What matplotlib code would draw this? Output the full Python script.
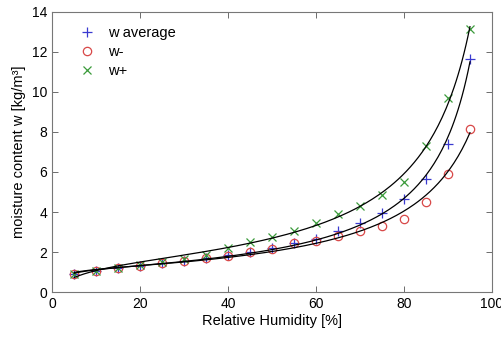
import numpy as np
import matplotlib
matplotlib.use("Agg")
import matplotlib.pyplot as plt

plt.rcParams["font.family"] = ["Liberation Sans", "DejaVu Sans"]

# relative humidity [%]
rh = [5, 10, 15, 20, 25, 30, 35, 40, 45, 50, 55, 60, 65, 70, 75, 80, 85, 90, 95]

# moisture content [kg/m3]
w_avg = [0.9, 1.05, 1.2, 1.3, 1.45, 1.55, 1.7, 1.85, 2.0, 2.2, 2.45, 2.65, 3.05,
         3.45, 3.95, 4.65, 5.65, 7.4, 11.65]
w_minus = [0.9, 1.05, 1.2, 1.3, 1.45, 1.55, 1.7, 1.8, 2.0, 2.15, 2.45, 2.55, 2.8,
           3.05, 3.3, 3.65, 4.5, 5.9, 8.15]
w_plus = [0.9, 1.05, 1.2, 1.35, 1.5, 1.65, 1.85, 2.2, 2.5, 2.75, 3.05, 3.45, 3.9,
          4.3, 4.85, 5.5, 7.3, 9.7, 13.15]


def gab_fit(x, w):
    # GAB isotherm in linear form: a/w = p2*a^2 + p1*a + p0
    # weighted so the residuals are roughly in terms of w
    a = np.asarray(x) / 100.0
    w = np.asarray(w)
    p = np.polyfit(a, a / w, 2, w=w**2 / a)
    aa = np.linspace(a[0], a[-1], 200)
    return aa * 100, aa / np.polyval(p, aa)


fig = plt.figure(figsize=(5.02, 3.40), dpi=100)
ax = fig.add_axes([0.104, 0.141, 0.876, 0.824])

for w in (w_avg, w_minus, w_plus):
    xf, yf = gab_fit(rh, w)
    ax.plot(xf, yf, color="black", lw=0.9, zorder=3)

ax.plot(rh, w_avg, "+", color="#3a3ad0", ms=6.5, mew=0.9, label="w average", zorder=2)
ax.plot(rh, w_minus, "o", color="#d84848", mfc="none", ms=6, mew=0.9, label="w-", zorder=2)
ax.plot(rh, w_plus, "x", color="#3a9a3a", ms=5.5, mew=0.9, label="w+", zorder=2)

ax.set_xlim(0, 100)
ax.set_ylim(0, 14)
ax.set_xticks(range(0, 101, 20))
ax.set_yticks(range(0, 15, 2))
ax.tick_params(direction="in", top=True, right=True, length=4, labelsize=10, width=0.6,
               color="#555555")
for s in ax.spines.values():
    s.set_color("#777777")
    s.set_linewidth(0.8)

ax.set_xlabel("Relative Humidity [%]", fontsize=10.5, labelpad=2)
ax.set_ylabel("moisture content w [kg/m³]", fontsize=10.5, labelpad=4)

ax.legend(loc="upper left", frameon=False, fontsize=10.5, handletextpad=0.45,
          borderaxespad=0.0, labelspacing=0.35, bbox_to_anchor=(0.032, 0.97))

fig.savefig("out.png", dpi=100)
